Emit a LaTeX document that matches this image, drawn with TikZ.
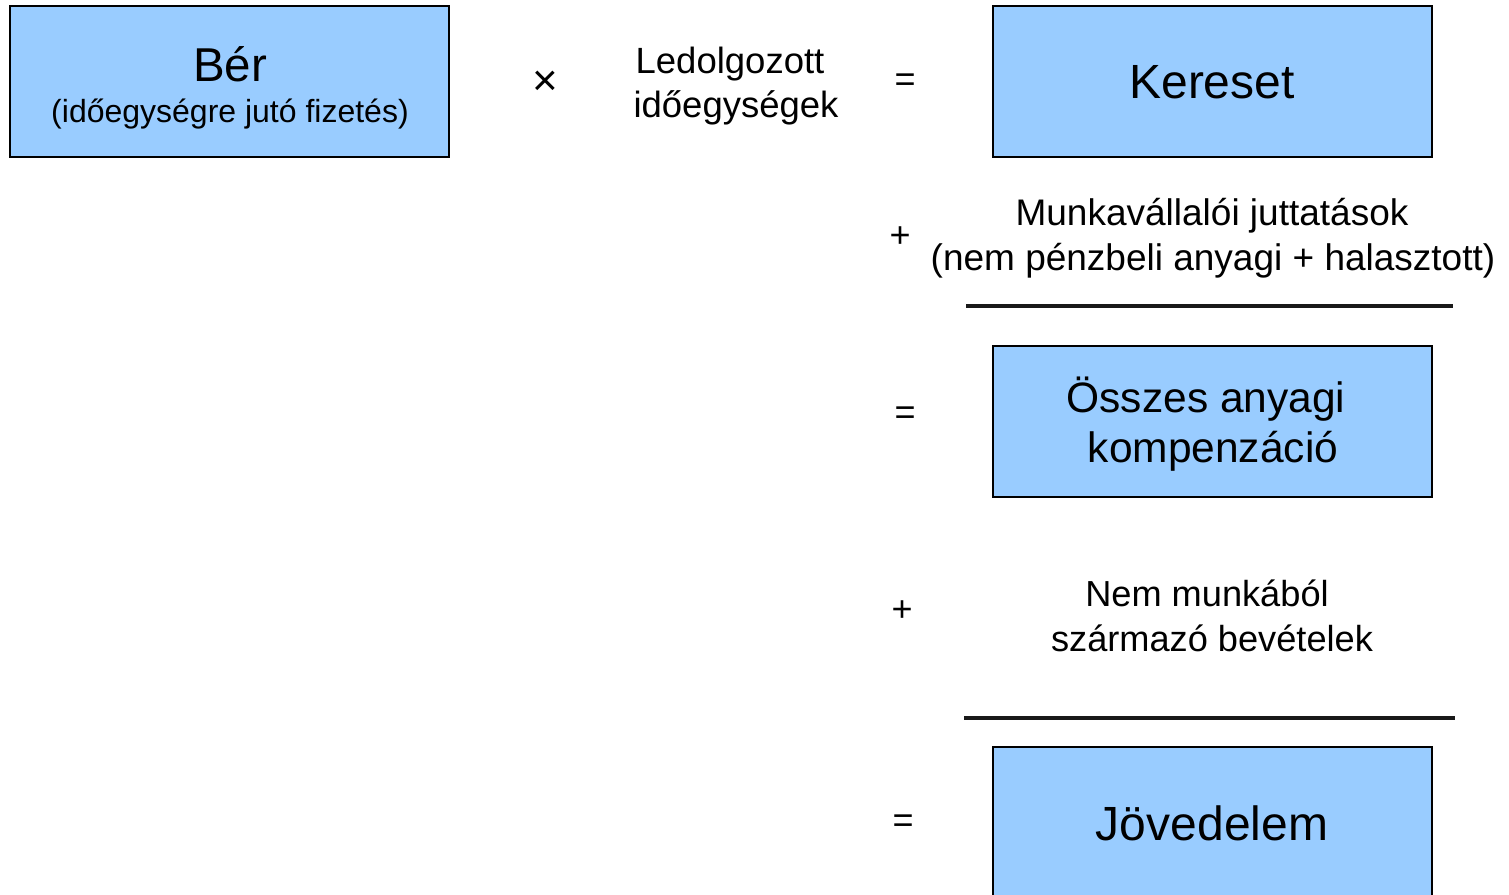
\documentclass[tikz,border=0pt]{standalone}
\usepackage{fontspec}
\setmainfont{Liberation Sans}
\definecolor{boxblue}{HTML}{99CCFF}
\begin{document}
\begin{tikzpicture}[x=1pt,y=-1pt,
  bluebox/.style={draw=black, line width=1.6pt, fill=boxblue},
  sym/.style={font=\fontsize{36}{40}\selectfont, anchor=center, inner sep=0pt},
  rule/.style={line width=3.8pt, draw=black!90},
  txt/.style={inner sep=0pt, align=center}]
\useasboundingbox (0,0) rectangle (1509,894);
\begin{scope}
\clip (0,0) rectangle (1509,894);
% boxes
\draw[bluebox] (10,6) rectangle (449,157);
\draw[bluebox] (993,6) rectangle (1432,157);
\draw[bluebox] (993,346) rectangle (1432,497);
\draw[bluebox] (993,747) rectangle (1432,910);
\end{scope}
% box texts
\node[txt, anchor=base] (ber) at (230,81) {\fontsize{47.5}{50}\selectfont Bér};
\node[txt, anchor=base] (bersub) at (230,122) {\fontsize{32}{36}\selectfont (időegységre jutó fizetés)};
\node[txt, anchor=base] (kereset) at (1212,98) {\fontsize{48}{52}\selectfont Kereset};
\node[txt, anchor=base] (ossz1) at (1206,412) {\fontsize{42.5}{50}\selectfont Összes anyagi};
\node[txt, anchor=base] (ossz2) at (1213,462) {\fontsize{42.5}{50}\selectfont kompenzáció};
\node[txt, anchor=base] (jov) at (1212,840) {\fontsize{48}{52}\selectfont Jövedelem};
% free texts
\node[txt, anchor=base] (led1) at (730,73) {\fontsize{36.5}{44}\selectfont Ledolgozott};
\node[txt, anchor=base] (led2) at (736,117) {\fontsize{36.5}{44}\selectfont időegységek};
\node[txt, anchor=base] (munk1) at (1212,225) {\fontsize{37}{44}\selectfont Munkavállalói juttatások};
\node[txt, anchor=base] (munk2) at (1213,270) {\fontsize{37}{44}\selectfont (nem pénzbeli anyagi + halasztott)};
\node[txt, anchor=base] (nem1) at (1207,606) {\fontsize{36.2}{44}\selectfont Nem munkából};
\node[txt, anchor=base] (nem2) at (1212,651) {\fontsize{36.2}{44}\selectfont származó bevételek};
% symbols
\node[sym, font=\fontsize{44}{44}\selectfont] (times) at (545,83) {×};
\node[sym] (eq1) at (905,83) {=};
\node[sym] (plus1) at (900,237) {+};
\node[sym] (eq2) at (905,416) {=};
\node[sym] (plus2) at (902,611) {+};
\node[sym] (eq3) at (903,824) {=};
% rules
\coordinate (r1a) at (966,306);
\coordinate (r1b) at (1453,306);
\coordinate (r2a) at (964,718);
\coordinate (r2b) at (1455,718);
\draw[rule] (r1a) -- (r1b);
\draw[rule] (r2a) -- (r2b);
\end{tikzpicture}
\end{document}
